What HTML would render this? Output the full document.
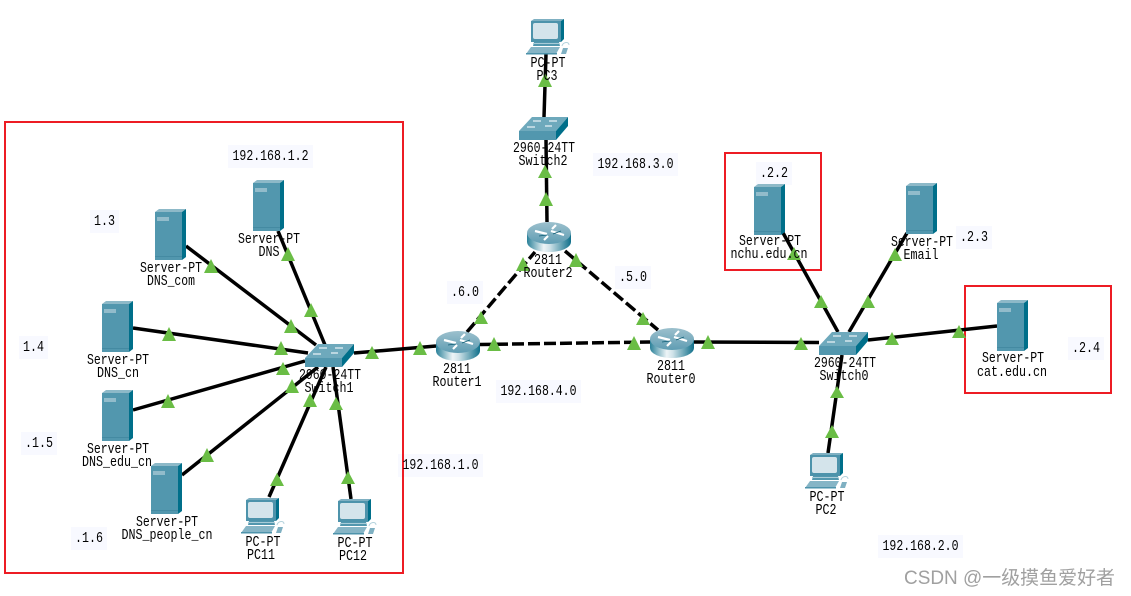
<!DOCTYPE html>
<html>
<head>
<meta charset="utf-8">
<style>
html,body{margin:0;padding:0;background:#fff;}
svg{display:block;}
.t{font-family:"Liberation Mono",monospace;font-size:14.5px;fill:#000;text-anchor:middle;}
.w{font-family:"Liberation Sans","Noto Sans CJK SC",sans-serif;font-size:19px;fill:#a0a0a0;}
.l{stroke:#000;stroke-width:3.5;fill:none;}
.d{stroke:#000;stroke-width:3.5;fill:none;stroke-dasharray:12 4;}
.b{fill:#f8f9ff;}
.r{fill:none;stroke:#ed1c24;stroke-width:2;}
.a{fill:#6abd45;}
</style>
</head>
<body>
<svg width="1131" height="596" viewBox="0 0 1131 596" xmlns="http://www.w3.org/2000/svg">
<defs>
<linearGradient id="gbody" x1="0" x2="1" y1="0" y2="0">
<stop offset="0" stop-color="#2a8199"/><stop offset=".38" stop-color="#eef5f7"/><stop offset=".52" stop-color="#cfe2e8"/><stop offset="1" stop-color="#0f6f8a"/>
</linearGradient>
<linearGradient id="gtop" x1="0" x2="0" y1="0" y2="1">
<stop offset="0" stop-color="#9cc0cd"/><stop offset="1" stop-color="#5f9db3"/>
</linearGradient>
<g id="srv">
<polygon points="0,3 4,0 31,0 27,3" fill="#8db9c8"/>
<polygon points="27,3 31,0 31,48 27,51" fill="#006f8a"/>
<rect x="0" y="3" width="27" height="48" fill="#5297ae"/>
<rect x="0" y="47" width="27" height="1" fill="#448aa2"/>
<rect x="2" y="8" width="12" height="4" fill="#92bccb"/>
</g>
<g id="pc">
<polygon points="5,2 8,0 38,0 35,2" fill="#7fb0c2"/>
<polygon points="35,2 38,0 38,20 35,23" fill="#006f8a"/>
<rect x="5" y="2" width="30" height="21" fill="#4d93ab"/>
<rect x="7" y="4" width="25" height="16" rx="2" fill="#d4e4eb"/>
<polygon points="8,23 33,23 34,27 7,27" fill="#5297ae"/>
<rect x="7" y="24" width="26" height="1" fill="#a9ccd8"/>
<polygon points="5,28 34,28 30,35 0,35" fill="#86b5c6"/>
<rect x="0" y="34" width="31" height="1.5" fill="#4d93ab"/>
<polygon points="37,29 42,29 40,35 35,35" fill="#7fb0c2"/>
<path d="M36,27 C37,23 43,22 43,26" fill="none" stroke="#b5d3dd" stroke-width="1"/>
</g>
<g id="sw">
<polygon points="0,14 13,0 49,0 37,14" fill="#6ea9bc"/>
<polygon points="37,14 49,0 49,9 37,23" fill="#006f8a"/>
<rect x="0" y="14" width="37" height="9" fill="#5297ae"/>
<path d="M14,4 H22 M30,4 H38 M8,10 H16 M26,9 H33" stroke="#e8f2f5" stroke-width="1.2"/>
</g>
<g id="rtr">
<path d="M0,11 V20 A22,10 0 0 0 44,20 V11 Z" fill="url(#gbody)"/>
<ellipse cx="22" cy="11" rx="22" ry="11" fill="url(#gtop)"/>
<path d="M8,9 L20,12 M24,9 L37,13 M17,18 L21,14 M25,7 L29,3" stroke="#fff" stroke-width="2.2" fill="none"/>
<path d="M12,14 L20,13 M26,12 L34,9" stroke="#0d5d75" stroke-width=".8" fill="none"/>
</g>
</defs>
<rect width="1131" height="596" fill="#fff"/>

<!-- label backgrounds -->
<rect class="b" x="228" y="145" width="85" height="23"/>
<rect class="b" x="90" y="210" width="29" height="23"/>
<rect class="b" x="19" y="336" width="29" height="23"/>
<rect class="b" x="21" y="432" width="36" height="23"/>
<rect class="b" x="71" y="527" width="36" height="23"/>
<rect class="b" x="398" y="454" width="85" height="23"/>
<rect class="b" x="593" y="153" width="85" height="23"/>
<rect class="b" x="447" y="281" width="36" height="23"/>
<rect class="b" x="615" y="266" width="36" height="23"/>
<rect class="b" x="496" y="380" width="85" height="23"/>
<rect class="b" x="756" y="162" width="36" height="23"/>
<rect class="b" x="956" y="226" width="36" height="23"/>
<rect class="b" x="1068" y="337" width="36" height="23"/>
<rect class="b" x="878" y="535" width="85" height="23"/>

<!-- red frames -->
<rect class="r" x="5" y="122" width="398" height="451"/>
<rect class="r" x="725" y="153" width="96" height="117"/>
<rect class="r" x="965" y="286" width="146" height="107"/>

<!-- links -->
<path class="l" d="M278,231 L325,345"/>
<path class="l" d="M186,246 L316,345"/>
<path class="l" d="M133,328 L308,353"/>
<path class="l" d="M133,410 L305,361"/>
<path class="l" d="M182,475 L318,367"/>
<path class="l" d="M269,497 L326,367"/>
<path class="l" d="M351,499 L333,367"/>
<path class="l" d="M354,353 L436,346"/>
<path class="l" d="M547,222 L546,140"/>
<path class="l" d="M544,117 L546,54"/>
<path class="l" d="M693,342 L819,342.5"/>
<path class="l" d="M782,231 L838,332"/>
<path class="l" d="M907,233 L849,332"/>
<path class="l" d="M868,340 L997,326"/>
<path class="l" d="M842,355 L828,453"/>
<path class="d" d="M467,332 L535,252"/>
<path class="d" d="M565,251 L658,330"/>
<path class="d" d="M480,344.5 L650,342"/>

<!-- devices -->
<use href="#srv" x="253" y="180"/>
<use href="#srv" x="155" y="209"/>
<use href="#srv" x="102" y="301"/>
<use href="#srv" x="102" y="390"/>
<use href="#srv" x="151" y="463"/>
<use href="#srv" x="754" y="184"/>
<use href="#srv" x="906" y="183"/>
<use href="#srv" x="997" y="300"/>
<use href="#pc" x="241" y="498"/>
<use href="#pc" x="333" y="499"/>
<use href="#pc" x="526" y="19"/>
<use href="#pc" x="805" y="453"/>
<use href="#sw" x="305" y="344"/>
<use href="#sw" x="519" y="117"/>
<use href="#sw" x="819" y="332"/>
<use href="#rtr" x="436" y="331"/>
<use href="#rtr" x="527" y="222"/>
<use href="#rtr" x="650" y="328"/>

<!-- link lights -->
<polygon class="a" points="211,259 204,273 218,273"/>
<polygon class="a" points="288,247 281,261 295,261"/>
<polygon class="a" points="311,303 304,317 318,317"/>
<polygon class="a" points="291,319 284,333 298,333"/>
<polygon class="a" points="281,341 274,355 288,355"/>
<polygon class="a" points="169,327 162,341 176,341"/>
<polygon class="a" points="372,346 365,359 379,359"/>
<polygon class="a" points="420,341 413,355 427,355"/>
<polygon class="a" points="494,337 487,351 501,351"/>
<polygon class="a" points="283,362 276,375 290,375"/>
<polygon class="a" points="292,379 285,393 299,393"/>
<polygon class="a" points="310,393 303,407 317,407"/>
<polygon class="a" points="336,397 329,410 343,410"/>
<polygon class="a" points="168,394 161,408 175,408"/>
<polygon class="a" points="207,448 200,462 214,462"/>
<polygon class="a" points="277,473 270,486 284,486"/>
<polygon class="a" points="348,471 341,484 355,484"/>
<polygon class="a" points="545,73 538,87 552,87"/>
<polygon class="a" points="545,165 538,178 552,178"/>
<polygon class="a" points="546,192 539,206 553,206"/>
<polygon class="a" points="523,257 516,271 530,271"/>
<polygon class="a" points="576,253 569,267 583,267"/>
<polygon class="a" points="481,311 474,324 488,324"/>
<polygon class="a" points="643,312 636,325 650,325"/>
<polygon class="a" points="634,336 627,350 641,350"/>
<polygon class="a" points="708,335 701,349 715,349"/>
<polygon class="a" points="801,337 794,350 808,350"/>
<polygon class="a" points="794,247 787,260 801,260"/>
<polygon class="a" points="821,295 814,308 828,308"/>
<polygon class="a" points="895,248 888,261 902,261"/>
<polygon class="a" points="868,295 861,308 875,308"/>
<polygon class="a" points="892,332 885,345 899,345"/>
<polygon class="a" points="959,325 952,338 966,338"/>
<polygon class="a" points="837,386 830,398 844,398"/>
<polygon class="a" points="832,425 825,438 839,438"/>

<!-- address notes -->
<text class="t" x="270.5" y="160" textLength="76" lengthAdjust="spacingAndGlyphs">192.168.1.2</text>
<text class="t" x="104.5" y="225" textLength="21" lengthAdjust="spacingAndGlyphs">1.3</text>
<text class="t" x="33.5" y="351" textLength="21" lengthAdjust="spacingAndGlyphs">1.4</text>
<text class="t" x="39" y="447" textLength="28" lengthAdjust="spacingAndGlyphs">.1.5</text>
<text class="t" x="89" y="542" textLength="28" lengthAdjust="spacingAndGlyphs">.1.6</text>
<text class="t" x="440.5" y="469" textLength="76" lengthAdjust="spacingAndGlyphs">192.168.1.0</text>
<text class="t" x="635.5" y="168" textLength="76" lengthAdjust="spacingAndGlyphs">192.168.3.0</text>
<text class="t" x="465" y="296" textLength="28" lengthAdjust="spacingAndGlyphs">.6.0</text>
<text class="t" x="633" y="281" textLength="28" lengthAdjust="spacingAndGlyphs">.5.0</text>
<text class="t" x="538.5" y="395" textLength="76" lengthAdjust="spacingAndGlyphs">192.168.4.0</text>
<text class="t" x="774" y="177" textLength="28" lengthAdjust="spacingAndGlyphs">.2.2</text>
<text class="t" x="974" y="241" textLength="28" lengthAdjust="spacingAndGlyphs">.2.3</text>
<text class="t" x="1086" y="352" textLength="28" lengthAdjust="spacingAndGlyphs">.2.4</text>
<text class="t" x="920.5" y="550" textLength="76" lengthAdjust="spacingAndGlyphs">192.168.2.0</text>

<!-- device labels -->
<text class="t" x="269" y="243" textLength="62" lengthAdjust="spacingAndGlyphs">Server-PT</text>
<text class="t" x="269" y="256" textLength="21" lengthAdjust="spacingAndGlyphs">DNS</text>
<text class="t" x="171" y="272" textLength="62" lengthAdjust="spacingAndGlyphs">Server-PT</text>
<text class="t" x="171" y="285" textLength="48" lengthAdjust="spacingAndGlyphs">DNS_com</text>
<text class="t" x="118" y="364" textLength="62" lengthAdjust="spacingAndGlyphs">Server-PT</text>
<text class="t" x="118" y="377" textLength="42" lengthAdjust="spacingAndGlyphs">DNS_cn</text>
<text class="t" x="118" y="453" textLength="62" lengthAdjust="spacingAndGlyphs">Server-PT</text>
<text class="t" x="117" y="466" textLength="70" lengthAdjust="spacingAndGlyphs">DNS_edu_cn</text>
<text class="t" x="167" y="526" textLength="62" lengthAdjust="spacingAndGlyphs">Server-PT</text>
<text class="t" x="167" y="539" textLength="91" lengthAdjust="spacingAndGlyphs">DNS_people_cn</text>
<text class="t" x="263" y="546" textLength="35" lengthAdjust="spacingAndGlyphs">PC-PT</text>
<text class="t" x="261" y="559" textLength="28" lengthAdjust="spacingAndGlyphs">PC11</text>
<text class="t" x="355" y="547" textLength="35" lengthAdjust="spacingAndGlyphs">PC-PT</text>
<text class="t" x="353" y="560" textLength="28" lengthAdjust="spacingAndGlyphs">PC12</text>
<text class="t" x="330" y="379" textLength="62" lengthAdjust="spacingAndGlyphs">2960-24TT</text>
<text class="t" x="329" y="392" textLength="49" lengthAdjust="spacingAndGlyphs">Switch1</text>
<text class="t" x="457" y="373" textLength="28" lengthAdjust="spacingAndGlyphs">2811</text>
<text class="t" x="457" y="386" textLength="49" lengthAdjust="spacingAndGlyphs">Router1</text>
<text class="t" x="548" y="67" textLength="35" lengthAdjust="spacingAndGlyphs">PC-PT</text>
<text class="t" x="547" y="80" textLength="21" lengthAdjust="spacingAndGlyphs">PC3</text>
<text class="t" x="544" y="152" textLength="62" lengthAdjust="spacingAndGlyphs">2960-24TT</text>
<text class="t" x="543" y="165" textLength="49" lengthAdjust="spacingAndGlyphs">Switch2</text>
<text class="t" x="548" y="264" textLength="28" lengthAdjust="spacingAndGlyphs">2811</text>
<text class="t" x="548" y="277" textLength="49" lengthAdjust="spacingAndGlyphs">Router2</text>
<text class="t" x="671" y="370" textLength="28" lengthAdjust="spacingAndGlyphs">2811</text>
<text class="t" x="671" y="383" textLength="49" lengthAdjust="spacingAndGlyphs">Router0</text>
<text class="t" x="770" y="245" textLength="62" lengthAdjust="spacingAndGlyphs">Server-PT</text>
<text class="t" x="769" y="258" textLength="77" lengthAdjust="spacingAndGlyphs">nchu.edu.cn</text>
<text class="t" x="922" y="246" textLength="62" lengthAdjust="spacingAndGlyphs">Server-PT</text>
<text class="t" x="921" y="259" textLength="35" lengthAdjust="spacingAndGlyphs">Email</text>
<text class="t" x="845" y="367" textLength="62" lengthAdjust="spacingAndGlyphs">2960-24TT</text>
<text class="t" x="844" y="380" textLength="49" lengthAdjust="spacingAndGlyphs">Switch0</text>
<text class="t" x="1013" y="362" textLength="62" lengthAdjust="spacingAndGlyphs">Server-PT</text>
<text class="t" x="1012" y="376" textLength="70" lengthAdjust="spacingAndGlyphs">cat.edu.cn</text>
<text class="t" x="827" y="501" textLength="35" lengthAdjust="spacingAndGlyphs">PC-PT</text>
<text class="t" x="826" y="514" textLength="21" lengthAdjust="spacingAndGlyphs">PC2</text>

<text class="w" x="904" y="584" textLength="211" lengthAdjust="spacingAndGlyphs">CSDN @一级摸鱼爱好者</text>
</svg>
</body>
</html>
